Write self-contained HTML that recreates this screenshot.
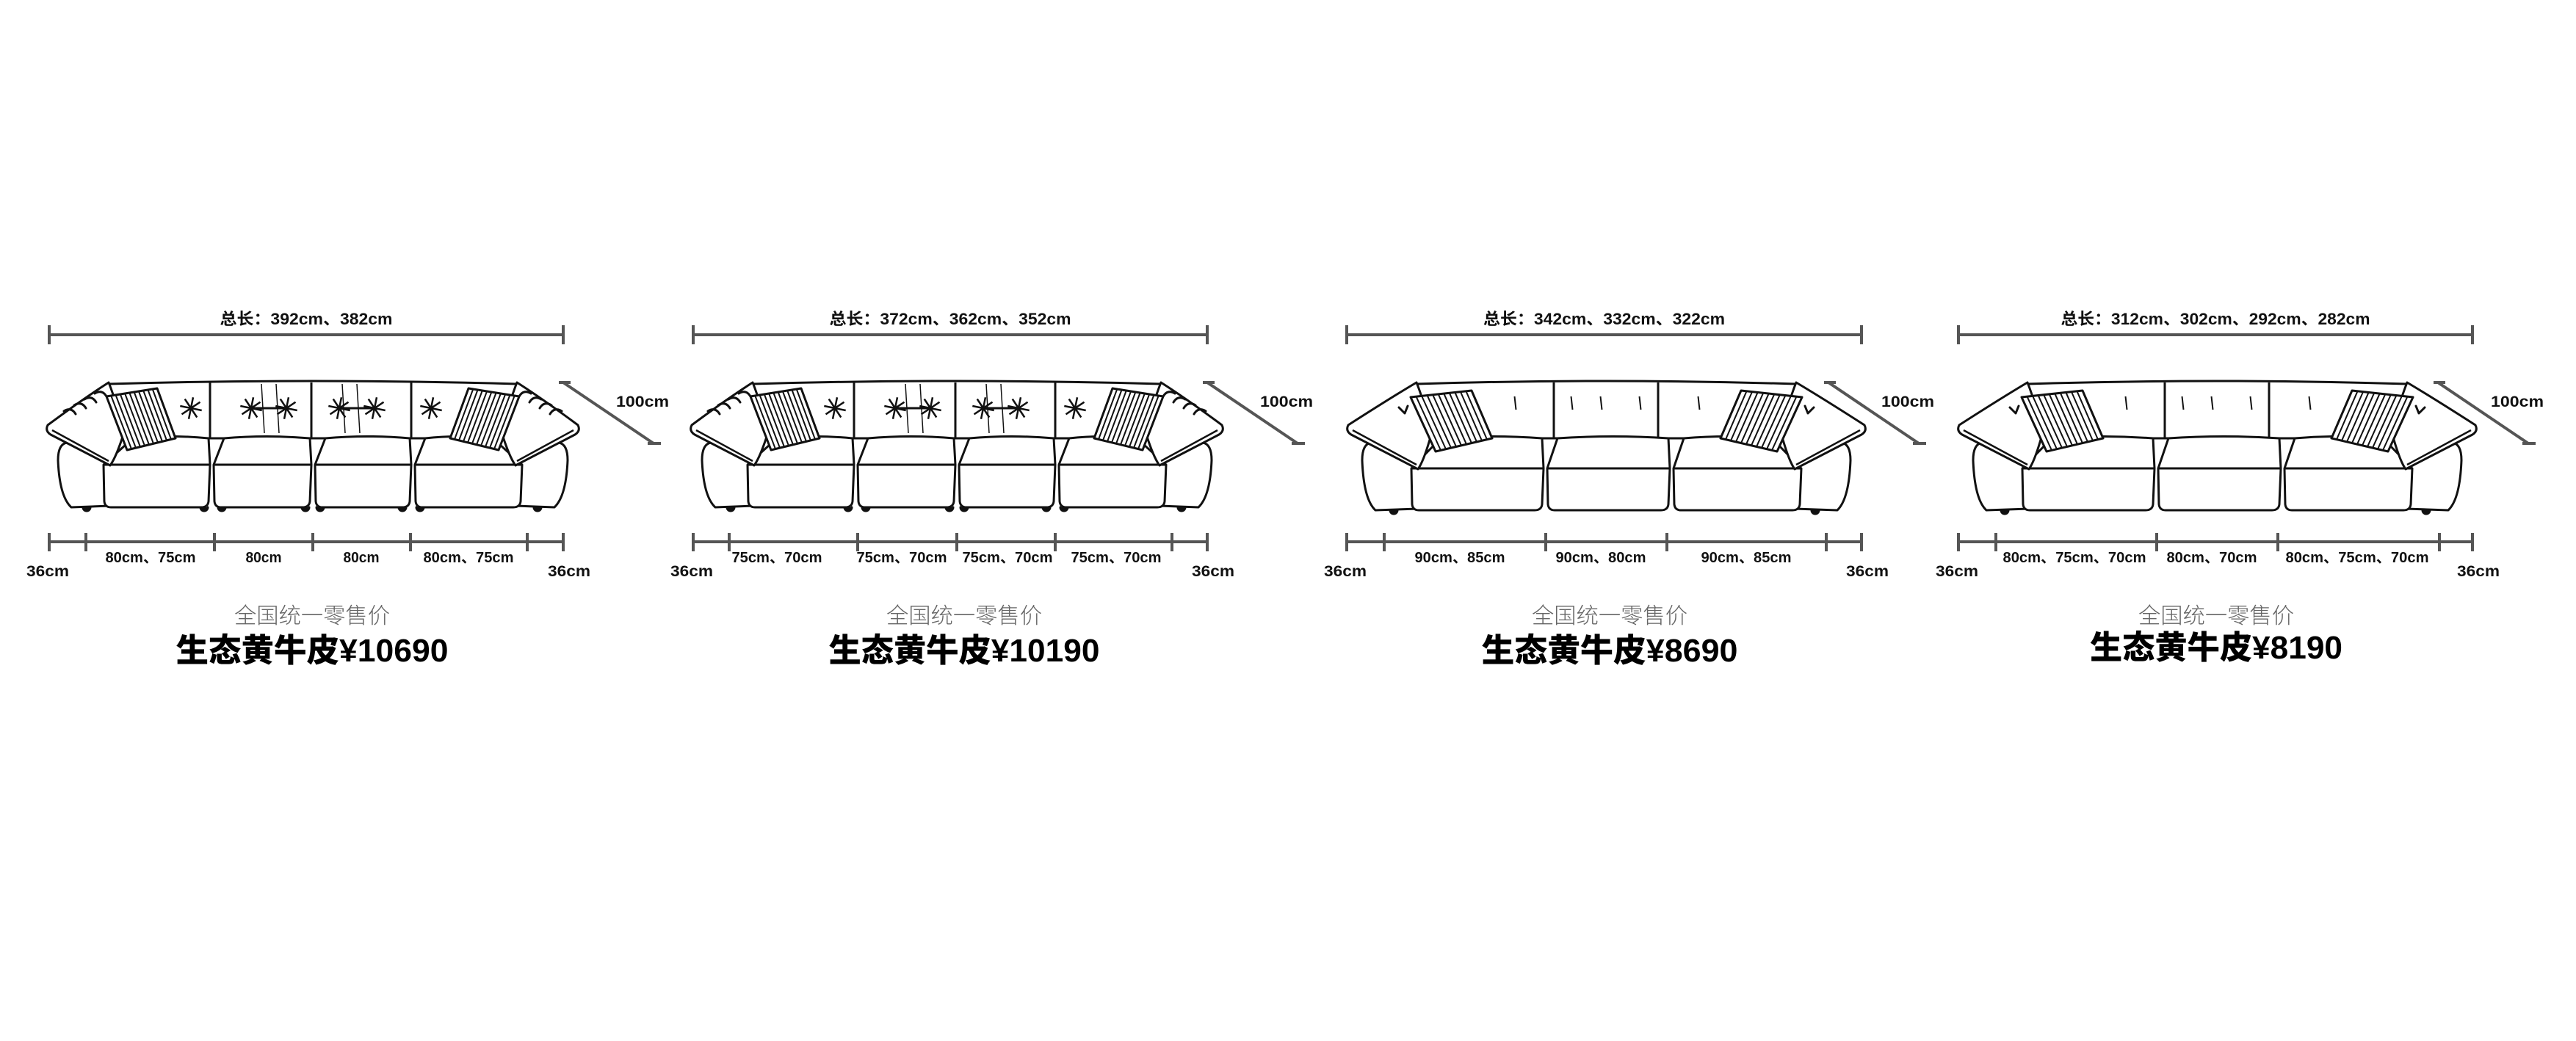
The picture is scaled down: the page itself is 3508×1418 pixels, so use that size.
<!DOCTYPE html>
<html><head><meta charset="utf-8">
<style>
html,body{margin:0;padding:0;background:#fff;width:3508px;height:1418px;overflow:hidden}
svg{display:block}
.b{font-family:"Liberation Sans Narrow","Liberation Sans","Noto Sans CJK SC",sans-serif;font-weight:bold;fill:#111}
.g{font-family:"Liberation Sans","Noto Sans CJK SC",sans-serif;font-weight:300;fill:#666}
.p{font-family:"Liberation Sans","Noto Sans CJK SC",sans-serif;font-weight:900;fill:#000}
</style></head>
<body>
<svg id="s" width="3508" height="1418" xmlns="http://www.w3.org/2000/svg"></svg>
<script>
var o=[];
function P(d,f){o.push('<path d="'+d+'" fill="'+(f||'none')+'" stroke="#111" stroke-width="3" stroke-linejoin="round" stroke-linecap="round"/>');}
function L(x1,y1,x2,y2,c,w){o.push('<line x1="'+x1+'" y1="'+y1+'" x2="'+x2+'" y2="'+y2+'" stroke="'+(c||'#555')+'" stroke-width="'+(w||4)+'"/>');}
function T(cls,x,y,size,w,txt){o.push('<text class="'+cls+'" x="'+x+'" y="'+y+'" font-size="'+size+'" text-anchor="middle" textLength="'+w+'" lengthAdjust="spacingAndGlyphs">'+txt+'</text>');}
function star(x,y,r){for(var i=0;i<4;i++){var a=i*Math.PI/4+0.2;L(x-r*Math.cos(a),y-r*Math.sin(a),x+r*Math.cos(a),y+r*Math.sin(a),'#111',2.5);}}
function pillow(q){
  var d='M'+q[0]+' L'+q[1]+' L'+q[2]+' L'+q[3]+' Z';P(d,'#fff');
  var n=11;for(var i=1;i<n;i++){var t=i/n;
    var ax=q[0][0]+(q[1][0]-q[0][0])*t, ay=q[0][1]+(q[1][1]-q[0][1])*t;
    var bx=q[3][0]+(q[2][0]-q[3][0])*t, by=q[3][1]+(q[2][1]-q[3][1])*t;
    L(ax,ay,bx,by,'#111',2);}
}
function sofa(Lx,Rx,armW,divs,tip,pl,type){
  var bt=521,bb=597,F=(type=='A'?633:638),B=(type=='A'?691:695);
  var bl=Lx+armW, br=Rx-armW;
  P('M'+bl+' '+(bt+2)+' Q'+((bl+br)/2)+' '+(bt-6)+' '+br+' '+(bt+2)+' L'+br+' '+bb+' L'+bl+' '+bb+' Z','#fff');
  var bd=[bl].concat(divs.map(function(d,i){return d+(type=='A'?0:(i==0?14:-16));})).concat([br]);
  for(var i=1;i<bd.length-1;i++){L(bd[i]-2,bt,bd[i]-2,bb,'#111',3);}
  P('M'+bl+' '+(bb+6)+' L'+(Lx+12)+' '+(bb+6)+' Q'+Lx+' '+(bb+8)+' '+Lx+' '+(bb+30)+' Q'+(Lx+2)+' '+(B-15)+' '+(Lx+18)+' '+(B)+' L'+(bl+2)+' '+(B-2)+' Z','#fff');
  P('M'+br+' '+(bb+6)+' L'+(Rx-12)+' '+(bb+6)+' Q'+Rx+' '+(bb+8)+' '+Rx+' '+(bb+30)+' Q'+(Rx-2)+' '+(B-15)+' '+(Rx-18)+' '+(B)+' L'+(br-2)+' '+(B-2)+' Z','#fff');
  var e=[Lx+armW-7].concat(divs).concat([Rx-armW+7]);
  for(var i=0;i<e.length-1;i++){
    var xl=e[i]+(i>0?3:0), xr=e[i+1]-(i<e.length-2?2:0);
    var tl=(i==0?xl+40:xl+14), tr=(i==e.length-2?xr-40:xr-2);
    if(i>0&&i<e.length-2){tl=xl+14;tr=xr-2;}
    P('M'+tl+' '+bb+' Q'+((tl+tr)/2)+' '+(bb-5)+' '+tr+' '+bb+' L'+xr+' '+F+' L'+(xr-2)+' '+(B-8)+' Q'+(xr-3)+' '+B+' '+(xr-12)+' '+B+' L'+(xl+10)+' '+B+' Q'+(xl+2)+' '+B+' '+(xl+1)+' '+(B-8)+' L'+xl+' '+F+' Z','#fff');
    L(xl,F,xr,F,'#111',3);
  }
  var ft=type=='A'?[Lx+39,e[1]-10,e[1]+14,e[2]-10,e[2]+10,e[3]-14,e[3]+10,Rx-41]:[Lx+43,Rx-48];
  ft.forEach(function(x){P('M'+(x-5)+' '+B+' A5 5 0 0 0 '+(x+5)+' '+B,'#111');});
  [[1,Lx],[-1,Rx]].forEach(function(s){var k=s[0],X=s[1];
    var t=[X+k*armW,bt], tp=[X-k*tip,583], bo=[X+k*(armW+2),F+1];
    P('M'+t+' Q'+(X+k*armW*0.5)+' '+(bt+22)+' '+(tp[0]+k*4)+' '+(tp[1]-4)+' Q'+(tp[0])+' '+(tp[1]+4)+' '+(tp[0]+k*8)+' '+(tp[1]+9)+' L'+bo+' Q'+(X+k*(armW+10))+' '+(F-10)+' '+(X+k*(armW+20))+' '+(bb-5)+' Q'+(X+k*(armW+12))+' '+(bt+30)+' '+t,'#fff');
    L(tp[0]+k*10,tp[1]+3,bo[0]-k*2,bo[1]-6,'#111',2.5);
    if(type=='A'){for(var j=0;j<4;j++){P('M'+(X+k*(8+j*14))+' '+(560-j*8)+' q'+(k*10)+' -6 '+(k*16)+' 4');}}
    else{P('M'+(X+k*50)+' 555 l'+(k*8)+' 8 l'+(k*4)+' -10');}
  });
  pillow(pl.map(function(p){return [Lx+p[0],p[1]];}));
  pillow(pl.map(function(p){return [Rx-p[0],p[1]];}).slice().reverse().map(function(p,i,a){return a[[1,0,3,2][i]];}));
  if(type=='A'){
    var c=(Lx+Rx)/2; [-166,-84,-36,36,84,161].forEach(function(d){star(c+d,556,15);});
    L(c-84,556,c-36,556,'#111',3);L(c+36,556,c+84,556,'#111',3);
    [-70,-50,40,60].forEach(function(d){L(c+d,523,c+d+4,590,'#111',1.5);});
  }else{
    var c=(Lx+Rx)/2; [-125,-48,-8,45,125].forEach(function(d){L(c+d,540,c+d+2,558,'#111',2);});
  }
}
function dims(x0,x1,ticks,tot,totW,segs,price,pw,pc,py,doff){
  L(x0,456,x1,456);L(x0,443,x0,469);L(x1,443,x1,469);
  T('b',(x0+x1)/2,442,22,totW,tot);
  L(x0,738,x1,738);ticks.forEach(function(t){L(t,726,t,751);});
  segs.forEach(function(s){T('b',s[0],766,20,s[2],s[1]);});
  T('b',x0-2,785,21,58,'36cm');T('b',x1+8,785,21,58,'36cm');
  var dx=x1+doff;
  var a=[dx,521],b=[dx+123,604];L(a[0],a[1],b[0],b[1]);
  L(a[0]-6,a[1],a[0]+10,a[1],'#555',4);L(b[0]-8,b[1],b[0]+10,b[1],'#555',4);
  T('b',dx+108,554,21,72,'100cm');
  T('g',pc,849,30,212,'全国统一零售价');
  T('p',pc,py,44,pw,price);
}
sofa(79,773,69,[288,426,562],18,[[66,540],[135,529],[160,597],[94,613]],'A');
sofa(956,1650,69,[1165,1303,1439],18,[[66,540],[135,529],[160,597],[94,613]],'A');
sofa(1855,2520,74,[2104,2276],23,[[66,541],[149,532],[177,597],[100,615]],'B');
sofa(2687,3352,74,[2936,3108],23,[[66,541],[149,532],[177,597],[100,615]],'B');
dims(67,767,[67,117,292,426,559,718,767],'总长：392cm、382cm',235,
 [[205,'80cm、75cm',123],[359,'80cm',49],[492,'80cm',49],[638,'80cm、75cm',123]],
 '生态黄牛皮¥10690',371,425,901,0);
dims(944,1644,[944,993,1168,1303,1437,1596,1644],'总长：372cm、362cm、352cm',329,
 [[1058,'75cm、70cm',123],[1228,'75cm、70cm',123],[1372,'75cm、70cm',123],[1520,'75cm、70cm',123]],
 '生态黄牛皮¥10190',369,1313,901,0);
dims(1834,2535,[1834,1885,2105,2270,2487,2535],'总长：342cm、332cm、322cm',329,
 [[1988,'90cm、85cm',123],[2180,'90cm、80cm',123],[2378,'90cm、85cm',123]],
 '生态黄牛皮¥8690',349,2192,901,-45);
dims(2667,3367,[2667,2718,2937,3102,3322,3367],'总长：312cm、302cm、292cm、282cm',421,
 [[2825,'80cm、75cm、70cm',195],[3012,'80cm、70cm',123],[3210,'80cm、75cm、70cm',195]],
 '生态黄牛皮¥8190',344,3018,897,-47);
document.getElementById('s').innerHTML=o.join('');
</script>
</body></html>
